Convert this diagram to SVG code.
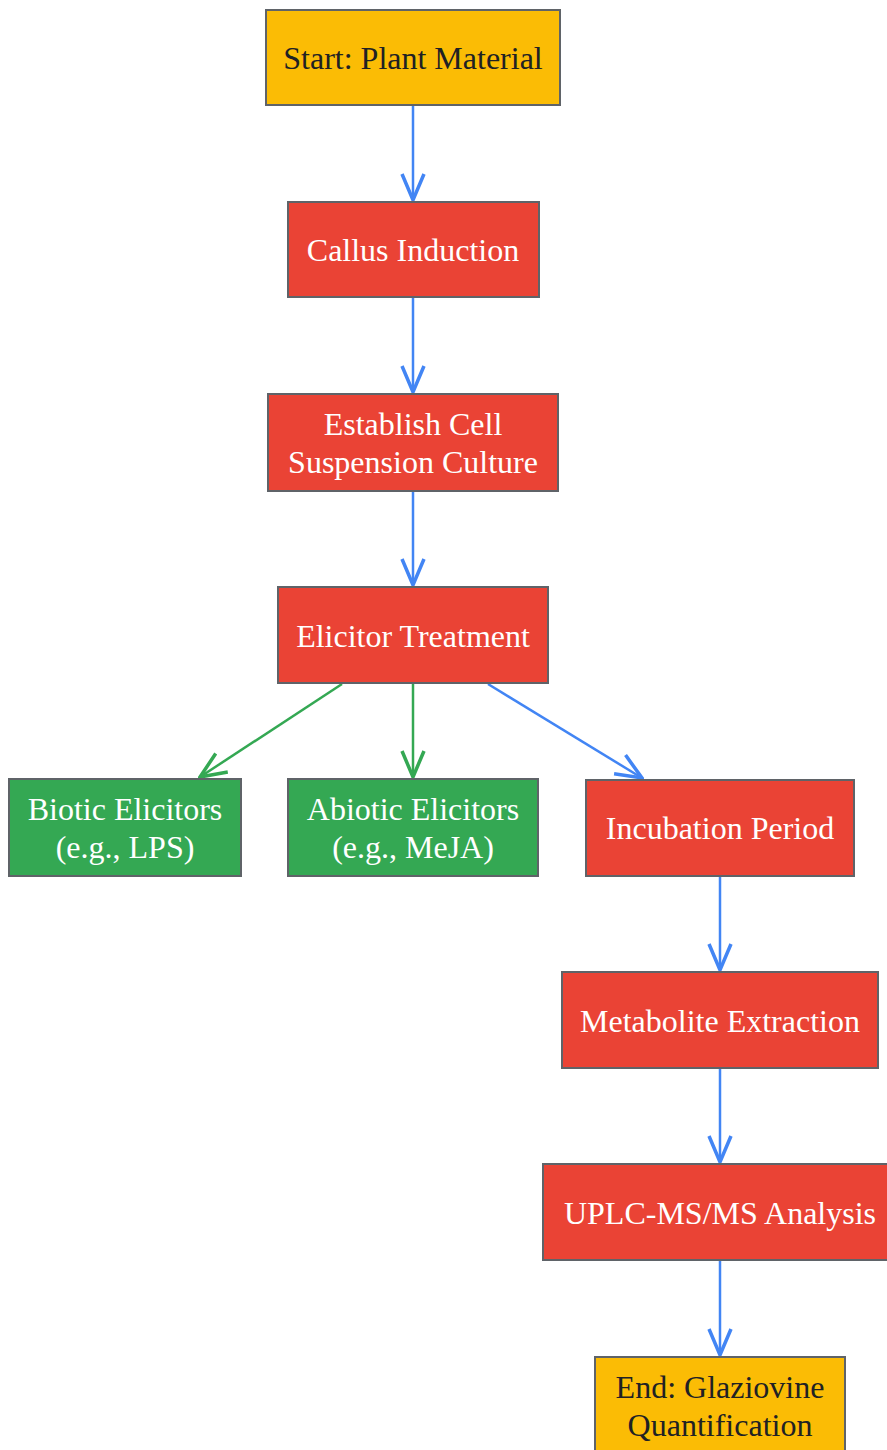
<svg xmlns="http://www.w3.org/2000/svg" width="887" height="1450" viewBox="0 0 887 1450">
<style>
.n rect{stroke:#5f6368;stroke-width:2}
.y rect{fill:#FBBC05}
.r rect{fill:#EA4335}
.g rect{fill:#34A853}
text{font-family:"Liberation Serif","Times New Roman",serif;font-size:32px;text-anchor:middle;dominant-baseline:central}
.y text{fill:#202124}
.r text,.g text{fill:#ffffff}
.eb{stroke:#4285F4;stroke-width:2.5;fill:none}
.eg{stroke:#34A853;stroke-width:2.5;fill:none}
</style>
<defs>
<marker id="ab" viewBox="0 0 30 26" refX="28" refY="13" markerWidth="30" markerHeight="26" markerUnits="userSpaceOnUse" orient="auto">
<path d="M2,2 L28,13 L2,24" fill="none" stroke="#4285F4" stroke-width="3.5"/>
</marker>
<marker id="ag" viewBox="0 0 30 26" refX="28" refY="13" markerWidth="30" markerHeight="26" markerUnits="userSpaceOnUse" orient="auto">
<path d="M2,2 L28,13 L2,24" fill="none" stroke="#34A853" stroke-width="3.5"/>
</marker>
</defs>
<rect width="887" height="1450" fill="#ffffff"/>
<g id="edges">
<line class="eb" x1="413" y1="105" x2="413" y2="200" marker-end="url(#ab)"/>
<line class="eb" x1="413" y1="297" x2="413" y2="392" marker-end="url(#ab)"/>
<line class="eb" x1="413" y1="491" x2="413" y2="585" marker-end="url(#ab)"/>
<line class="eg" x1="342" y1="684" x2="200" y2="777" marker-end="url(#ag)"/>
<line class="eg" x1="413" y1="684" x2="413" y2="777" marker-end="url(#ag)"/>
<line class="eb" x1="488" y1="684" x2="642" y2="778" marker-end="url(#ab)"/>
<line class="eb" x1="720" y1="876" x2="720" y2="970" marker-end="url(#ab)"/>
<line class="eb" x1="720" y1="1068" x2="720" y2="1162" marker-end="url(#ab)"/>
<line class="eb" x1="720" y1="1260" x2="720" y2="1355" marker-end="url(#ab)"/>
</g>
<g id="start" class="n y"><rect x="266" y="10" width="294" height="95"/><text x="413" y="58">Start: Plant Material</text></g>
<g id="callus" class="n r"><rect x="288" y="202" width="251" height="95"/><text x="413" y="250">Callus Induction</text></g>
<g id="establish" class="n r"><rect x="268" y="394" width="290" height="97"/><text x="413" y="424">Establish Cell</text><text x="413" y="462">Suspension Culture</text></g>
<g id="elicitor" class="n r"><rect x="278" y="587" width="270" height="96"/><text x="413" y="636">Elicitor Treatment</text></g>
<g id="biotic" class="n g"><rect x="9" y="779" width="232" height="97"/><text x="125" y="809">Biotic Elicitors</text><text x="125" y="847">(e.g., LPS)</text></g>
<g id="abiotic" class="n g"><rect x="288" y="779" width="250" height="97"/><text x="413" y="809">Abiotic Elicitors</text><text x="413" y="847">(e.g., MeJA)</text></g>
<g id="incubation" class="n r"><rect x="586" y="780" width="268" height="96"/><text x="720" y="828">Incubation Period</text></g>
<g id="metabolite" class="n r"><rect x="562" y="972" width="316" height="96"/><text x="720" y="1021">Metabolite Extraction</text></g>
<g id="uplc" class="n r"><rect x="543" y="1164" width="354" height="96"/><text x="720" y="1213">UPLC-MS/MS Analysis</text></g>
<g id="end" class="n y"><rect x="595" y="1357" width="250" height="104"/><text x="720" y="1387">End: Glaziovine</text><text x="720" y="1425">Quantification</text></g>
</svg>
